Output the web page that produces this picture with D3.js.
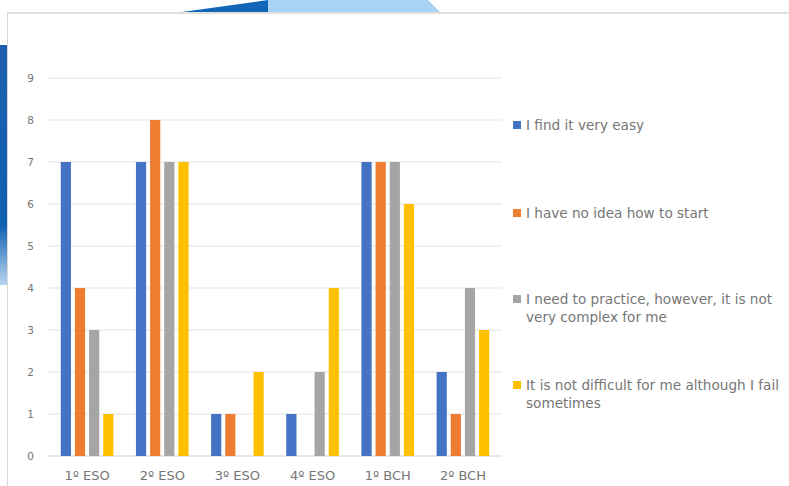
<!DOCTYPE html>
<html>
<head>
<meta charset="utf-8">
<script src="https://cdn.jsdelivr.net/npm/d3@7"></script>
<style>
  html, body { margin: 0; padding: 0; background: #fff; }
  svg { display: block; font-family: "DejaVu Sans", "Liberation Sans", sans-serif; }
</style>
</head>
<body>
<svg id="chart" width="789" height="486"></svg>
<script>
// Courses on the horizontal axis
const categories = ["1º ESO", "2º ESO", "3º ESO", "4º ESO", "1º BCH", "2º BCH"];

// Answer options (legend entries)
const seriesNames = [
  "I find it very easy",
  "I have no idea how to start",
  "I need to practice, however, it is not very complex for me",
  "It is not difficult for me although I fail sometimes"
];

// Number of students per answer, one array per option
const veryEasy      = [7, 7, 1, 1, 7, 2];
const noIdea        = [4, 8, 1, 0, 7, 1];
const needPractice  = [3, 7, 0, 2, 7, 4];
const notDifficult  = [1, 7, 2, 4, 6, 3];

const yTicks = [0, 1, 2, 3, 4, 5, 6, 7, 8, 9];

const seriesValues = [veryEasy, noIdea, needPractice, notDifficult];
const colors = ["#4472C4", "#ED7D31", "#A5A5A5", "#FFC000"];

const svg = d3.select("#chart");

// Slide decoration behind the chart frame
const defs = svg.append("defs");
const grad = defs.append("linearGradient").attr("id", "sideBlue")
  .attr("x1", 0).attr("y1", 0).attr("x2", 0).attr("y2", 1);
grad.append("stop").attr("offset", "0%").attr("stop-color", "#1d5fae");
grad.append("stop").attr("offset", "75%").attr("stop-color", "#0f5fb3");
grad.append("stop").attr("offset", "100%").attr("stop-color", "#b9d6ef");
svg.append("rect").attr("x", 0).attr("y", 45).attr("width", 7).attr("height", 240)
  .attr("fill", "url(#sideBlue)");
svg.append("path").attr("d", "M182,12 L268,0 L268,12 Z").attr("fill", "#1266b8");
svg.append("path").attr("d", "M268,0 L428,0 L440,12 L268,12 Z").attr("fill", "#a9d3f5");

// Chart frame
svg.append("line").attr("x1", 7).attr("x2", 789).attr("y1", 13).attr("y2", 13)
  .attr("stroke", "#d4d4d4").attr("stroke-width", 1.5);
svg.append("line").attr("x1", 7.5).attr("x2", 7.5).attr("y1", 13).attr("y2", 486)
  .attr("stroke", "#d8d8d8").attr("stroke-width", 1);

// Scales
const plot = { left: 48, right: 502, top: 78, bottom: 456 };
const x = d3.scaleBand().domain(categories).range([plot.left, plot.right])
  .paddingInner(0.3).paddingOuter(0.17);
const xs = d3.scaleBand().domain(d3.range(seriesNames.length))
  .range([0, x.bandwidth()]).paddingInner(0.28);
const y = d3.scaleLinear().domain([0, 9]).range([plot.bottom, plot.top]);

// Horizontal gridlines
svg.append("g").selectAll("line").data(yTicks).join("line")
  .attr("x1", plot.left).attr("x2", plot.right)
  .attr("y1", d => y(d)).attr("y2", d => y(d))
  .attr("stroke", d => d === 0 ? "#cfcfcf" : "#e2e2e2").attr("stroke-width", 1.2);

// Y axis labels
const yAxis = d3.axisLeft(y).tickValues(yTicks).tickSize(0).tickPadding(0);
svg.append("g").attr("transform", `translate(${plot.left - 14},0)`).call(yAxis)
  .call(g => g.select(".domain").remove())
  .call(g => g.selectAll("text").attr("fill", "#767676").attr("font-size", 10.5)
    .attr("font-family", "DejaVu Sans"));

// X axis labels
const xAxis = d3.axisBottom(x).tickSize(0).tickPadding(0);
svg.append("g").attr("transform", `translate(0,${plot.bottom + 15})`).call(xAxis)
  .call(g => g.select(".domain").remove())
  .call(g => g.selectAll("text").attr("fill", "#767676").attr("font-size", 13)
    .attr("font-family", "DejaVu Sans"));

// Bars
const rows = [];
categories.forEach((c, i) => seriesValues.forEach((vals, s) => rows.push({ c, s, v: vals[i] })));
svg.append("g").selectAll("rect").data(rows.filter(d => d.v > 0)).join("rect")
  .attr("x", d => x(d.c) + xs(d.s))
  .attr("width", xs.bandwidth())
  .attr("y", d => y(d.v))
  .attr("height", d => y(0) - y(d.v))
  .attr("fill", d => colors[d.s]);

// Legend
const legendItems = [
  { lines: ["I find it very easy"], y: 125 },
  { lines: ["I have no idea how to start"], y: 213 },
  { lines: ["I need to practice, however, it is not", "very complex for me"], y: 299 },
  { lines: ["It is not difficult for me although I fail", "sometimes"], y: 385 }
];
const legend = svg.append("g");
legendItems.forEach((item, i) => {
  const g = legend.append("g").attr("transform", `translate(513,${item.y})`);
  g.append("rect").attr("x", 0).attr("y", -4).attr("width", 8).attr("height", 8)
    .attr("fill", colors[i]);
  const t = g.append("text").attr("y", 4.5)
    .attr("fill", "#767676").attr("font-size", 13.6);
  item.lines.forEach((ln, k) => {
    t.append("tspan").attr("x", 13).attr("dy", k === 0 ? 0 : 18).text(ln);
  });
});
</script>
</body>
</html>
